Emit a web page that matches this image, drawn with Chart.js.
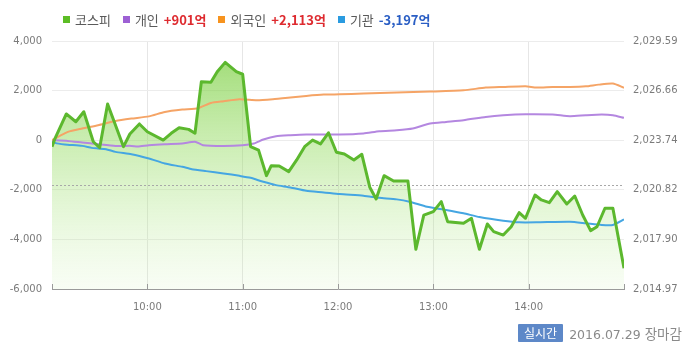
<!DOCTYPE html>
<html>
<head>
<meta charset="utf-8">
<script src="https://cdn.jsdelivr.net/npm/chart.js@4.4.1/dist/chart.umd.min.js"></script>
<style>
html,body{margin:0;padding:0;background:#fff;}
#wrap{position:relative;width:700px;height:358px;overflow:hidden;background:#fff;}
#c{position:absolute;left:0;top:0;}
#legend{position:absolute;left:63px;top:10px;height:18px;display:flex;align-items:center;font-family:"Noto Sans CJK KR","DejaVu Sans",sans-serif;font-size:13px;color:#5a5a5a;white-space:nowrap;}
.item{display:flex;align-items:center;margin-right:12px;}
.sw{width:7px;height:7px;margin-right:5px;}
.val{margin-left:5px;font-weight:bold;}
#footer{position:absolute;left:518px;top:324px;height:18px;display:flex;align-items:center;white-space:nowrap;}
.badge{background:#5d88c8;color:#fff;font-family:"Noto Sans CJK KR",sans-serif;font-size:12px;height:18px;line-height:18px;padding:0 6px;border-radius:1px;}
.stamp{margin-left:6px;color:#8a8a8a;font-family:"DejaVu Sans","Noto Sans CJK KR",sans-serif;font-size:12.5px;}
.stamp .kr{font-family:"Noto Sans CJK KR",sans-serif;font-size:13.5px;}
</style>
</head>
<body>
<div id="wrap">
  <canvas id="c" width="700" height="358"></canvas>
  <div id="legend"></div>
  <div id="footer"></div>
</div>
<script>
// ---- data ----
const kospiTimes = [
  '09:00','09:02','09:09','09:15','09:20','09:26','09:30','09:35','09:45','09:49',
  '09:55','10:00','10:10','10:15','10:20','10:26','10:30','10:34','10:40','10:44',
  '10:49','10:56','11:00','11:05','11:10','11:15','11:18','11:23','11:29','11:34',
  '11:39','11:44','11:49','11:54','11:59','12:04','12:10','12:15','12:20','12:24',
  '12:29','12:35','12:44','12:49','12:54','13:00','13:05','13:09','13:19','13:24',
  '13:29','13:34','13:38','13:44','13:49','13:54','13:58','14:04','14:08','14:13',
  '14:18','14:24','14:29','14:34','14:39','14:43','14:48','14:53','15:00'
];
const kospiValues = [
  2023.36,2023.87,2025.29,2024.83,2025.42,2023.65,2023.30,2025.88,2023.36,2024.11,
  2024.70,2024.24,2023.75,2024.15,2024.48,2024.38,2024.15,2027.19,2027.16,2027.78,
  2028.33,2027.78,2027.63,2023.36,2023.16,2021.65,2022.24,2022.22,2021.89,2022.58,
  2023.36,2023.75,2023.52,2024.18,2023.03,2022.93,2022.58,2022.91,2020.97,2020.28,
  2021.65,2021.34,2021.34,2017.31,2019.33,2019.53,2020.12,2018.94,2018.84,2019.14,
  2017.31,2018.80,2018.35,2018.15,2018.64,2019.47,2019.14,2020.51,2020.22,2020.06,
  2020.71,2019.98,2020.45,2019.33,2018.41,2018.64,2019.73,2019.73,2016.19
];
const individualTimes = [
  '09:00','09:10','09:19','09:29','09:40','09:50','09:54','10:01','10:11','10:22',
  '10:30','10:35','10:48','11:00','11:07','11:13','11:21','11:30','11:40','12:01',
  '12:16','12:26','12:37','12:47','12:58','13:08','13:19','13:33','13:44','13:58',
  '14:15','14:26','14:36','14:46','14:53','15:00'
];
const individualValues = [
  0,-28,-93,-161,-229,-229,-254,-201,-161,-133,
  -60,-201,-229,-201,-133,28,161,201,229,229,
  270,362,402,471,672,736,805,938,1006,1046,
  1034,966,1006,1034,1006,901
];
const foreignTimes = [
  '09:00','09:10','09:19','09:29','09:40','09:50','10:01','10:11','10:22','10:32',
  '10:40','10:48','10:58','11:09','11:19','11:30','11:40','11:51','12:01','12:16',
  '12:37','12:58','13:19','13:33','13:44','13:58','14:05','14:15','14:26','14:36',
  '14:44','14:53','15:00'
];
const foreignValues = [
  0,334,471,604,777,873,960,1139,1235,1290,
  1500,1569,1650,1610,1650,1718,1783,1839,1851,1879,
  1919,1960,2012,2121,2145,2173,2121,2145,2145,2173,
  2241,2282,2113
];
const institutionTimes = [
  '09:00','09:02','09:08','09:19','09:25','09:29','09:34','09:40','09:50','10:01',
  '10:11','10:22','10:28','10:37','10:48','10:58','11:05','11:13','11:21','11:30',
  '11:40','11:51','12:01','12:16','12:26','12:37','12:45','12:56','13:08','13:19',
  '13:29','13:44','13:54','14:05','14:26','14:36','14:46','14:53','15:00'
];
const institutionValues = [
  0,-109,-173,-229,-310,-334,-362,-471,-563,-736,
  -938,-1074,-1167,-1247,-1340,-1437,-1517,-1678,-1811,-1903,
  -2040,-2105,-2173,-2241,-2322,-2386,-2480,-2684,-2814,-2947,
  -3098,-3247,-3312,-3312,-3288,-3352,-3420,-3420,-3197
];
const prevClose = 2021.11;
const leftTicks = [-6000,-4000,-2000,0,2000,4000];
const rightTicks = [2014.97,2017.90,2020.82,2023.74,2026.66,2029.59];
const hourMarks = ['09:00','10:00','11:00','12:00','13:00','14:00','15:00'];
const hourLabels = ['10:00','11:00','12:00','13:00','14:00'];
const seriesNames = ['코스피','개인','외국인','기관'];
const netBuyLabels = ['','+901억','+2,113억','-3,197억'];
const badgeText = '실시간';
const dateText = '2016.07.29';
const statusText = '장마감';

// ---- styles ----
const swatchColors = ['#5cbd25','#9d60d4','#f7931e','#2a9be0'];
const lineColors = ['#5cb82e','#b487e0','#f5a466','#45a6e2'];
const posColor = '#de2a2f', negColor = '#2a5ec4';

function toMin(t){ const [h,m] = t.split(':').map(Number); return (h-9)*60 + m; }
function pts(times, vals){ return times.map((t,i)=>({x:toMin(t), y:vals[i]})); }

// legend
const lg = document.getElementById('legend');
seriesNames.forEach((n,i)=>{
  const it = document.createElement('span'); it.className='item';
  const sw = document.createElement('span'); sw.className='sw'; sw.style.background=swatchColors[i];
  const tx = document.createElement('span'); tx.textContent=n;
  it.appendChild(sw); it.appendChild(tx);
  if(netBuyLabels[i]){
    const v = document.createElement('span'); v.className='val'; v.textContent=netBuyLabels[i];
    v.style.color = netBuyLabels[i].startsWith('-') ? negColor : posColor;
    it.appendChild(v);
  }
  lg.appendChild(it);
});
// footer
const ft = document.getElementById('footer');
ft.innerHTML = '<span class="badge"></span><span class="stamp"><span class="d"></span> <span class="kr"></span></span>';
ft.querySelector('.badge').textContent = badgeText;
ft.querySelector('.d').textContent = dateText;
ft.querySelector('.kr').textContent = statusText;

const tickFont = {family:'"DejaVu Sans", sans-serif', size:10};
const tickColor = '#7b7b7b';

const extras = {
  id:'extras',
  beforeDatasetsDraw(chart){
    const {ctx, chartArea:a} = chart;
    const y = Math.round(chart.scales.yR.getPixelForValue(prevClose)) + 0.5;
    ctx.save();
    ctx.strokeStyle = '#a8a8a8'; ctx.lineWidth = 1; ctx.setLineDash([2,2]);
    ctx.beginPath(); ctx.moveTo(a.left, y); ctx.lineTo(a.right, y); ctx.stroke();
    ctx.restore();
  },
  afterDraw(chart){
    const {ctx, chartArea:a} = chart;
    const xs = chart.scales.x;
    ctx.save();
    ctx.strokeStyle = '#9a9a9a'; ctx.lineWidth = 1;
    hourMarks.forEach(h=>{
      const x = Math.round(xs.getPixelForValue(toMin(h))) + 0.5;
      ctx.beginPath(); ctx.moveTo(x, a.bottom); ctx.lineTo(x, a.bottom-5); ctx.stroke();
    });
    ctx.restore();
  }
};

new Chart(document.getElementById('c'), {
  type:'line',
  data:{
    datasets:[
      {label:seriesNames[0], data:pts(kospiTimes,kospiValues), yAxisID:'yR',
       borderColor:lineColors[0], borderWidth:3, pointRadius:0, tension:0, fill:'start',
       borderJoinStyle:'round',
       backgroundColor:(c)=>{
         const a = c.chart.chartArea; if(!a) return 'rgba(0,0,0,0)';
         const g = c.chart.ctx.createLinearGradient(0,a.top,0,a.bottom);
         g.addColorStop(0,'rgba(118,204,58,0.75)');
         g.addColorStop(0.45,'rgba(150,220,100,0.45)');
         g.addColorStop(1,'rgba(200,240,170,0.12)');
         return g;
       }},
      {label:seriesNames[2], data:pts(foreignTimes,foreignValues), yAxisID:'yL',
       borderColor:lineColors[2], borderWidth:2, pointRadius:0, tension:0.2, fill:false},
      {label:seriesNames[1], data:pts(individualTimes,individualValues), yAxisID:'yL',
       borderColor:lineColors[1], borderWidth:2, pointRadius:0, tension:0.2, fill:false},
      {label:seriesNames[3], data:pts(institutionTimes,institutionValues), yAxisID:'yL',
       borderColor:lineColors[3], borderWidth:2, pointRadius:0, tension:0.2, fill:false}
    ]
  },
  options:{
    responsive:false, animation:false, devicePixelRatio:1, events:[],
    layout:{padding:{top:41,left:0,right:0,bottom:0}},
    plugins:{legend:{display:false}, tooltip:{enabled:false}, filler:{drawTime:'beforeDatasetsDraw'}},
    scales:{
      x:{type:'linear', min:0, max:360,
         afterBuildTicks:(s)=>{ s.ticks = hourLabels.map(h=>({value:toMin(h)})); },
         afterFit:(s)=>{ s.height = 69; },
         grid:{color:'#e6e6e6', drawTicks:false},
         border:{display:true, color:'#9a9a9a'},
         ticks:{padding:12, font:tickFont, color:tickColor, maxRotation:0,
                callback:(v)=>{ const h=9+Math.floor(v/60), m=v%60; return String(h).padStart(2,'0')+':'+String(m).padStart(2,'0'); }}},
      yL:{type:'linear', position:'left', min:-6000, max:4000,
          afterBuildTicks:(s)=>{ s.ticks = leftTicks.map(v=>({value:v})); },
          afterFit:(s)=>{ s.width = 52; },
          grid:{color:'#ececec', drawTicks:false},
          border:{display:false},
          ticks:{padding:10, font:tickFont, color:tickColor,
                 callback:(v)=>Number(v).toLocaleString('en-US')}},
      yR:{type:'linear', position:'right', min:2014.97, max:2029.59,
          afterBuildTicks:(s)=>{ s.ticks = rightTicks.map(v=>({value:v})); },
          afterFit:(s)=>{ s.width = 76; },
          grid:{display:false, drawTicks:false},
          border:{display:false},
          ticks:{padding:9, font:tickFont, color:tickColor,
                 callback:(v)=>Number(v).toLocaleString('en-US',{minimumFractionDigits:2,maximumFractionDigits:2})}}
    }
  },
  plugins:[extras]
});
</script>
</body>
</html>
